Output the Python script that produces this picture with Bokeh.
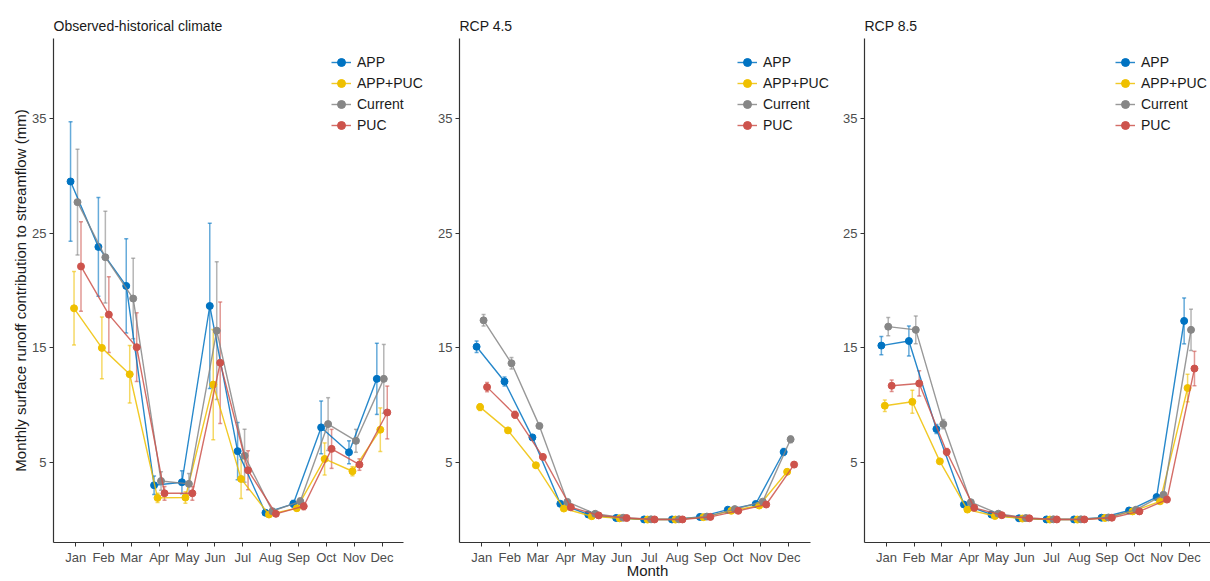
from bokeh.plotting import figure
from bokeh.models import (ColumnDataSource, Range1d, FixedTicker, Whisker, TeeHead,
                          Legend, LegendItem)
from bokeh.layouts import row
from bokeh.transform import dodge
from bokeh.embed import file_html
from bokeh.resources import INLINE

months = ["Jan", "Feb", "Mar", "Apr", "May", "Jun", "Jul", "Aug", "Sep", "Oct", "Nov", "Dec"]
month_num = list(range(1, 13))
series = ["APP", "APP+PUC", "Current", "PUC"]
colors = ["#0073C2", "#EFC000", "#868686", "#CD534C"]
dodge_offsets = [-0.1875, -0.0625, 0.0625, 0.1875]
y_ticks = [5, 15, 25, 35]
titles = ["Observed-historical climate", "RCP 4.5", "RCP 8.5"]

# Observed-historical climate
hist_app = [29.5, 23.8, 20.4, 3.03, 3.29, 18.65, 6.0, 0.63, 1.41, 8.07, 5.9, 12.3]
hist_app_err = [5.2, 4.3, 4.1, 0.8, 1.0, 7.2, 2.5, 0.2, 0.3, 2.3, 1.0, 3.1]
hist_apppuc = [18.45, 15.0, 12.7, 1.93, 1.96, 11.8, 3.58, 0.48, 1.03, 5.32, 4.25, 7.87]
hist_apppuc_err = [3.2, 2.7, 2.5, 0.4, 0.5, 4.8, 1.7, 0.15, 0.25, 1.4, 0.4, 1.9]
hist_current = [27.7, 22.9, 19.3, 3.4, 3.15, 16.5, 5.6, 0.77, 1.63, 8.36, 6.9, 12.3]
hist_current_err = [4.6, 4.0, 3.5, 0.8, 0.9, 6.0, 2.3, 0.2, 0.3, 2.3, 1.0, 3.0]
hist_puc = [22.1, 17.9, 15.06, 2.33, 2.33, 13.7, 4.33, 0.54, 1.2, 6.2, 4.83, 9.37]
hist_puc_err = [3.9, 3.3, 3.0, 0.6, 0.6, 5.3, 1.7, 0.15, 0.3, 1.7, 0.5, 2.3]

# RCP 4.5
r45_app = [15.1, 12.07, 7.2, 1.41, 0.48, 0.18, 0.05, 0.05, 0.27, 0.9, 1.4, 5.93]
r45_app_err = [0.5, 0.4, 0.2, 0.1, 0.05, 0.03, 0.02, 0.02, 0.03, 0.05, 0.1, 0.3]
r45_apppuc = [9.84, 7.81, 4.77, 1.0, 0.33, 0.15, 0.04, 0.04, 0.25, 0.8, 1.26, 4.2]
r45_apppuc_err = [0.3, 0.2, 0.15, 0.08, 0.04, 0.02, 0.02, 0.02, 0.03, 0.05, 0.08, 0.2]
r45_current = [17.4, 13.66, 8.2, 1.58, 0.54, 0.2, 0.06, 0.06, 0.3, 0.95, 1.6, 7.03]
r45_current_err = [0.5, 0.5, 0.2, 0.1, 0.05, 0.03, 0.02, 0.02, 0.03, 0.05, 0.1, 0.3]
r45_puc = [11.58, 9.17, 5.5, 1.11, 0.4, 0.17, 0.05, 0.05, 0.27, 0.8, 1.35, 4.83]
r45_puc_err = [0.4, 0.3, 0.2, 0.08, 0.04, 0.02, 0.02, 0.02, 0.03, 0.05, 0.08, 0.2]

# RCP 8.5
r85_app = [15.2, 15.6, 7.93, 1.35, 0.48, 0.15, 0.05, 0.05, 0.2, 0.83, 2.0, 17.35]
r85_app_err = [0.8, 1.3, 0.4, 0.1, 0.05, 0.03, 0.02, 0.02, 0.03, 0.06, 0.15, 2.0]
r85_apppuc = [9.96, 10.3, 5.11, 0.91, 0.35, 0.13, 0.04, 0.04, 0.18, 0.75, 1.63, 11.5]
r85_apppuc_err = [0.5, 1.0, 0.2, 0.08, 0.04, 0.02, 0.02, 0.02, 0.03, 0.05, 0.1, 1.2]
r85_current = [16.85, 16.57, 8.36, 1.55, 0.55, 0.17, 0.06, 0.06, 0.22, 0.9, 2.2, 16.57]
r85_current_err = [0.8, 1.2, 0.4, 0.1, 0.05, 0.03, 0.02, 0.02, 0.03, 0.06, 0.15, 1.8]
r85_puc = [11.7, 11.9, 5.93, 1.06, 0.42, 0.15, 0.05, 0.05, 0.2, 0.75, 1.78, 13.2]
r85_puc_err = [0.5, 1.1, 0.3, 0.08, 0.04, 0.02, 0.02, 0.02, 0.03, 0.05, 0.12, 1.5]

panel_data = [
    [(hist_app, hist_app_err), (hist_apppuc, hist_apppuc_err),
     (hist_current, hist_current_err), (hist_puc, hist_puc_err)],
    [(r45_app, r45_app_err), (r45_apppuc, r45_apppuc_err),
     (r45_current, r45_current_err), (r45_puc, r45_puc_err)],
    [(r85_app, r85_app_err), (r85_apppuc, r85_apppuc_err),
     (r85_current, r85_current_err), (r85_puc, r85_puc_err)],
]

FONT = "Liberation Sans"
HEIGHT = 581
BTOP = 38
BBOT = 38
FRAME_H = HEIGHT - BTOP - BBOT
X0, X_AXIS_END = 0.2, 12.77

layout_spec = [
    # width, border left, x range end (room for legend), legend x offset
    (430, 53, 13.74, 278),
    (405, 29, 13.67, 278),
    (375, 29, 12.77, 251),
]

figs = []
for k in range(3):
    width, bl, xend, lx = layout_spec[k]
    p = figure(width=width, height=HEIGHT, x_range=Range1d(X0, xend),
               y_range=Range1d(-1.96, 41.96), output_backend="svg",
               toolbar_location=None, min_border_left=bl, min_border_right=0,
               min_border_top=BTOP, min_border_bottom=BBOT)
    p.title.text = titles[k]
    p.title.text_font = FONT
    p.title.text_font_size = "14px"
    p.title.text_font_style = "normal"
    p.title.text_color = "#1a1a1a"
    p.title.align = "left"
    p.grid.visible = False
    p.outline_line_color = None
    p.background_fill_color = "white"
    p.border_fill_color = "white"

    for ax in (p.xaxis[0], p.yaxis[0]):
        ax.axis_line_color = "#333333"
        ax.axis_line_width = 1.2
        ax.major_tick_line_color = "#333333"
        ax.major_tick_in = 0
        ax.major_tick_out = 4
        ax.minor_tick_line_color = None
        ax.major_label_text_font = FONT
        ax.major_label_text_font_size = "13px"
        ax.major_label_text_color = "#4D4D4D"
    p.xaxis.bounds = (X0, X_AXIS_END)
    p.xaxis.ticker = FixedTicker(ticks=month_num)
    p.xaxis.major_label_overrides = {m: name for m, name in zip(month_num, months)}
    p.xaxis.major_label_standoff = 3
    p.yaxis.ticker = FixedTicker(ticks=y_ticks)
    p.yaxis.major_label_standoff = 3
    if k == 0:
        p.yaxis.axis_label = "Monthly surface runoff contribution to streamflow (mm)"
        p.yaxis.axis_label_text_font = FONT
        p.yaxis.axis_label_text_font_size = "15px"
        p.yaxis.axis_label_text_font_style = "normal"
        p.yaxis.axis_label_text_color = "#1a1a1a"
        p.yaxis.axis_label_standoff = 0
    if k == 1:
        p.xaxis.axis_label = "Month"
        p.xaxis.axis_label_text_font = FONT
        p.xaxis.axis_label_text_font_size = "15px"
        p.xaxis.axis_label_text_font_style = "normal"
        p.xaxis.axis_label_text_color = "#1a1a1a"
        p.xaxis.axis_label_standoff = -6

    items = []
    for (vals, errs), name, col, off in zip(panel_data[k], series, colors, dodge_offsets):
        src = ColumnDataSource(dict(
            x=month_num, y=vals,
            lo=[v - e for v, e in zip(vals, errs)],
            hi=[v + e for v, e in zip(vals, errs)],
        ))
        w = Whisker(source=src, base=dodge("x", off), upper="hi", lower="lo",
                    line_color=col, line_alpha=0.6, line_width=1.5,
                    upper_head=TeeHead(size=4, line_color=col, line_alpha=0.6, line_width=1.5),
                    lower_head=TeeHead(size=4, line_color=col, line_alpha=0.6, line_width=1.5),
                    level="underlay")
        p.add_layout(w)
        ln = p.line(x=dodge("x", off), y="y", source=src, line_color=col,
                    line_width=1.4, line_alpha=0.85)
        sc = p.scatter(x=dodge("x", off), y="y", source=src, size=7,
                       fill_color=col, line_color=col)
        items.append(LegendItem(label=name, renderers=[ln, sc]))

    legend = Legend(items=items, location=(lx, FRAME_H - 15 - 83),
                    glyph_width=20, glyph_height=20, spacing=1, label_standoff=6,
                    padding=0, margin=0, border_line_alpha=0, background_fill_alpha=0,
                    label_text_font=FONT, label_text_font_size="14px",
                    label_text_color="#1a1a1a", label_height=20)
    p.add_layout(legend)
    figs.append(p)

layout = row(*figs)
open("out.html", "w").write(file_html(layout, INLINE))
